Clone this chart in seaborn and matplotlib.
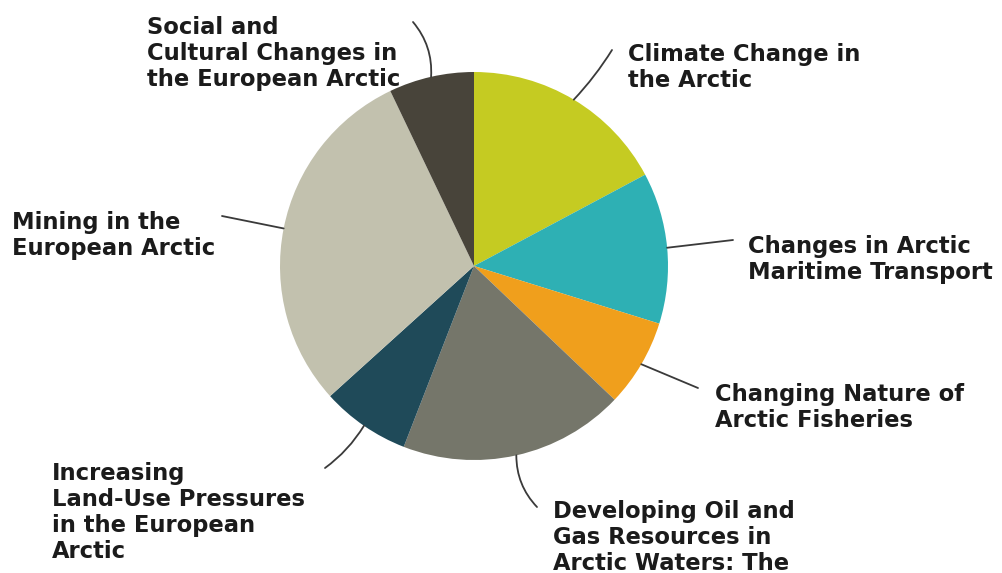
import numpy as np
import matplotlib
matplotlib.use("Agg")
import matplotlib.pyplot as plt
import seaborn as sns

# chapter topics, clockwise from the top of the pie
topics = [
    "Climate Change in\nthe Arctic",
    "Changes in Arctic\nMaritime Transport",
    "Changing Nature of\nArctic Fisheries",
    "Developing Oil and\nGas Resources in\nArctic Waters: The",
    "Increasing\nLand-Use Pressures\nin the European\nArctic",
    "Mining in the\nEuropean Arctic",
    "Social and\nCultural Changes in\nthe European Arctic",
]
shares = [17.2, 12.6, 7.3, 18.8, 7.4, 29.6, 7.1]
colors = ["#c5cb22", "#2eb0b4", "#f09f1c", "#75766a", "#1f4a59", "#c2c1ae", "#48443a"]

# label anchors in pixels from the top-left: text (left, first baseline), leader line end, curve
text_xy = [(628, 60), (748, 252), (715, 400), (553, 517), (52, 478), (12, 228), (147, 33)]
line_end = [(612, 50), (733, 240), (698, 388), (537, 507), (325, 468), (222, 216), (413, 22)]
line_rad = [-0.05, 0.0, 0.0, -0.2, 0.1, 0.0, -0.2]

W, H = 1003, 573
cx, cy, r = 474, 266, 194
line_step = 26.6

sns.set_style("white")
plt.rcParams["font.family"] = ["DejaVu Sans"]

fig = plt.figure(figsize=(W / 100, H / 100), dpi=100)
ax = fig.add_axes([0, 0, 1, 1])

wedges, _ = ax.pie(shares, colors=colors, startangle=90, counterclock=False,
                   center=(cx, H - cy), radius=r, frame=True,
                   wedgeprops=dict(linewidth=0))
ax.set_xlim(0, W)
ax.set_ylim(0, H)
ax.set_aspect("equal")
ax.axis("off")

for w, label, (tx, ty), (lx, ly), rad in zip(wedges, topics, text_xy, line_end, line_rad):
    ang = np.deg2rad((w.theta1 + w.theta2) / 2)
    px = cx + r * np.cos(ang)
    py = (H - cy) + r * np.sin(ang)
    ax.annotate("", xy=(px, py), xytext=(lx, H - ly),
                arrowprops=dict(arrowstyle="-", color="#3a3a3a", lw=1.3,
                                connectionstyle=f"arc3,rad={rad}", shrinkA=0, shrinkB=0))
    # baseline alignment follows the last line of a multi-line text
    last = ty + label.count("\n") * line_step
    ax.text(tx, H - last, label, ha="left", va="baseline", fontsize=16.3,
            fontweight="bold", color="#1b1b1b", linespacing=1.16)

fig.savefig("out.png", dpi=100, facecolor="white")
